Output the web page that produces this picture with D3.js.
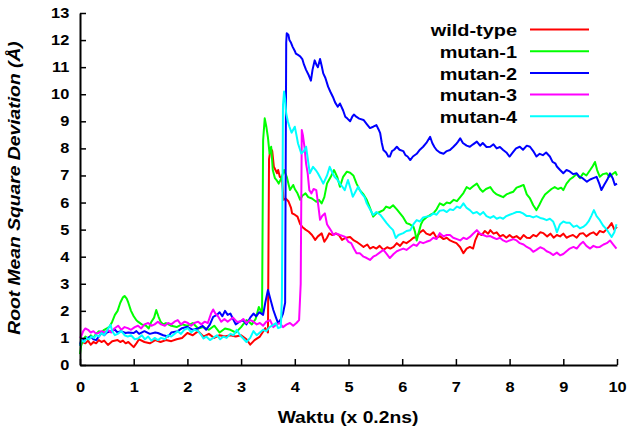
<!DOCTYPE html>
<html lang="en">
<head>
<meta charset="UTF-8">
<title>RMSD</title>
<style>
    body { margin: 0; background: #fff; }
    svg { display: block; font-family: "Liberation Sans", Arial, sans-serif; font-weight: bold; }
</style>
</head>
<body>
<div id="chart"></div>
<script src="https://d3js.org/d3.v7.min.js"></script>
<script>
// values: [time, rmsd]
const wildType = [[0,0.7],[0.05,0.85],[0.1,0.8],[0.15,0.9],[0.2,0.75],[0.25,0.85],[0.3,0.8],[0.35,0.92],[0.4,0.85],[0.45,0.9],[0.52,0.74],[0.6,0.88],[0.7,0.92],[0.75,0.85],[0.8,0.9],[0.85,0.8],[0.9,0.85],[1.0,0.66],[1.05,0.8],[1.1,0.95],[1.2,0.85],[1.3,0.8],[1.4,0.92],[1.5,0.85],[1.6,0.92],[1.7,0.88],[1.8,0.95],[1.9,1.0],[2.0,1.18],[2.1,1.1],[2.2,1.25],[2.3,1.05],[2.4,1.15],[2.5,1.0],[2.6,1.1],[2.7,1.05],[2.8,1.1],[2.9,1.05],[3.0,1.1],[3.1,0.95],[3.17,0.75],[3.25,0.92],[3.35,1.05],[3.45,1.36],[3.5,1.2],[3.52,7.6],[3.55,8.0],[3.58,7.9],[3.61,7.32],[3.64,7.2],[3.67,7.08],[3.69,7.2],[3.72,6.95],[3.76,6.9],[3.79,6.1],[3.83,6.15],[3.88,6.05],[3.93,5.8],[3.95,5.6],[4.0,5.55],[4.05,5.48],[4.1,5.2],[4.14,5.1],[4.2,5.0],[4.26,4.92],[4.32,4.8],[4.38,4.62],[4.43,4.75],[4.5,4.86],[4.55,4.55],[4.6,4.7],[4.64,4.86],[4.7,4.8],[4.76,4.86],[4.82,4.8],[4.88,4.62],[4.95,4.7],[5.03,4.73],[5.1,4.6],[5.15,4.55],[5.22,4.45],[5.28,4.36],[5.35,4.45],[5.4,4.3],[5.46,4.36],[5.52,4.3],[5.58,4.4],[5.65,4.25],[5.72,4.35],[5.78,4.3],[5.84,4.36],[5.9,4.5],[5.96,4.4],[6.02,4.55],[6.08,4.5],[6.15,4.6],[6.21,4.7],[6.27,4.73],[6.33,4.9],[6.39,4.98],[6.45,4.85],[6.52,4.8],[6.58,4.9],[6.64,4.7],[6.7,4.76],[6.77,4.65],[6.83,4.7],[6.89,4.6],[6.95,4.55],[7.01,4.5],[7.08,4.35],[7.14,4.13],[7.2,4.3],[7.26,4.36],[7.32,4.3],[7.36,4.6],[7.42,4.87],[7.48,4.8],[7.54,4.95],[7.6,4.85],[7.64,4.98],[7.7,4.85],[7.76,4.9],[7.82,4.75],[7.88,4.8],[7.94,4.7],[8.0,4.8],[8.06,4.7],[8.13,4.76],[8.2,4.65],[8.26,4.8],[8.32,4.7],[8.38,4.69],[8.44,4.8],[8.5,4.75],[8.57,4.9],[8.63,4.87],[8.7,4.75],[8.76,4.85],[8.82,4.7],[8.88,4.8],[8.94,4.75],[9.0,4.85],[9.06,4.7],[9.12,4.76],[9.18,4.8],[9.25,4.7],[9.31,4.85],[9.37,4.87],[9.43,4.75],[9.5,4.85],[9.56,4.9],[9.62,4.8],[9.68,4.95],[9.75,4.9],[9.8,5.0],[9.85,5.1],[9.9,5.24],[9.95,5.0],[10.0,5.1]];

const mutan1 = [[0,0.4],[0.02,0.7],[0.05,0.9],[0.1,1.05],[0.15,0.95],[0.2,1.1],[0.25,1.0],[0.3,1.15],[0.35,1.25],[0.4,1.2],[0.45,1.3],[0.5,1.35],[0.55,1.41],[0.6,1.6],[0.65,1.85],[0.7,2.0],[0.75,2.3],[0.8,2.5],[0.83,2.55],[0.87,2.45],[0.9,2.3],[0.95,2.0],[1.0,1.8],[1.05,1.65],[1.08,1.6],[1.15,1.5],[1.23,1.45],[1.28,1.35],[1.33,1.6],[1.38,1.75],[1.42,2.03],[1.46,1.8],[1.5,1.6],[1.55,1.5],[1.6,1.55],[1.7,1.45],[1.8,1.4],[1.9,1.5],[2.0,1.45],[2.1,1.55],[2.2,1.35],[2.3,1.4],[2.4,1.3],[2.5,1.45],[2.6,1.2],[2.7,1.35],[2.8,1.3],[2.9,1.2],[3.0,1.4],[3.1,1.66],[3.2,1.5],[3.27,1.7],[3.33,2.14],[3.39,1.9],[3.41,8.3],[3.44,9.11],[3.47,8.8],[3.5,8.4],[3.53,7.81],[3.56,8.06],[3.59,7.2],[3.63,6.9],[3.66,6.83],[3.7,6.7],[3.75,6.9],[3.8,7.2],[3.85,6.95],[3.91,6.46],[3.97,6.65],[4.0,6.5],[4.05,6.34],[4.1,6.1],[4.14,6.25],[4.2,6.34],[4.25,6.2],[4.32,6.15],[4.4,6.03],[4.45,6.1],[4.5,5.97],[4.55,6.2],[4.6,6.7],[4.67,6.95],[4.73,7.2],[4.79,6.95],[4.84,6.58],[4.9,6.95],[4.97,7.14],[5.03,7.1],[5.09,7.0],[5.15,6.7],[5.21,6.46],[5.28,6.3],[5.34,6.1],[5.4,5.8],[5.46,5.48],[5.52,5.6],[5.58,5.65],[5.65,5.72],[5.7,5.85],[5.77,5.8],[5.83,5.9],[5.9,5.75],[5.96,5.6],[6.02,5.45],[6.08,5.24],[6.14,5.2],[6.21,5.1],[6.24,4.9],[6.27,4.6],[6.31,4.9],[6.35,5.2],[6.39,5.35],[6.45,5.45],[6.52,5.54],[6.58,5.6],[6.64,5.75],[6.7,5.97],[6.77,5.9],[6.83,6.0],[6.89,5.97],[6.96,6.1],[7.02,6.05],[7.08,6.2],[7.14,6.35],[7.2,6.57],[7.26,6.5],[7.32,6.6],[7.39,6.7],[7.45,6.5],[7.5,6.4],[7.56,6.5],[7.64,6.57],[7.7,6.4],[7.76,6.3],[7.82,6.25],[7.88,6.2],[7.94,6.3],[8.0,6.35],[8.07,6.4],[8.13,6.55],[8.2,6.6],[8.26,6.65],[8.32,6.3],[8.38,6.15],[8.44,5.9],[8.5,5.72],[8.55,5.9],[8.6,6.1],[8.66,6.3],[8.72,6.4],[8.78,6.5],[8.84,6.57],[8.9,6.5],[8.96,6.55],[9.0,6.46],[9.06,6.7],[9.12,6.85],[9.19,6.95],[9.25,7.05],[9.31,6.9],[9.37,7.08],[9.43,7.0],[9.5,7.2],[9.55,7.35],[9.59,7.5],[9.63,7.2],[9.68,6.95],[9.74,7.05],[9.81,7.08],[9.86,6.95],[9.92,7.05],[9.97,7.13],[10.0,7.0]];

const mutan2 = [[0,0.75],[0.03,0.98],[0.08,0.9],[0.13,1.0],[0.2,1.05],[0.25,0.95],[0.3,0.92],[0.35,1.05],[0.4,1.18],[0.45,1.1],[0.5,1.2],[0.58,1.25],[0.65,1.3],[0.7,1.2],[0.76,1.25],[0.85,1.18],[0.9,1.2],[1.0,1.18],[1.05,1.25],[1.1,1.15],[1.2,1.25],[1.3,1.15],[1.4,1.2],[1.45,1.18],[1.55,1.1],[1.64,1.05],[1.7,1.2],[1.82,1.25],[1.9,1.36],[2.0,1.41],[2.1,1.3],[2.2,1.35],[2.28,1.45],[2.35,1.3],[2.42,1.5],[2.48,1.78],[2.55,1.85],[2.6,1.95],[2.65,1.8],[2.7,2.0],[2.75,1.85],[2.8,1.9],[2.85,1.7],[2.9,1.5],[2.97,1.6],[3.04,1.66],[3.1,1.5],[3.17,1.75],[3.23,1.9],[3.28,1.8],[3.34,1.95],[3.41,1.85],[3.45,2.3],[3.5,2.77],[3.55,2.4],[3.6,2.03],[3.65,1.75],[3.69,1.54],[3.74,1.7],[3.78,1.9],[3.82,2.3],[3.84,11.9],[3.85,12.25],[3.88,12.2],[3.9,12.0],[3.93,11.9],[3.96,11.75],[4.0,11.6],[4.02,11.5],[4.06,11.45],[4.1,11.4],[4.14,11.3],[4.17,11.1],[4.21,10.9],[4.26,10.7],[4.3,10.5],[4.33,10.9],[4.37,11.25],[4.4,11.1],[4.43,11.0],[4.47,11.3],[4.5,11.05],[4.53,10.77],[4.57,10.6],[4.62,10.28],[4.66,10.1],[4.71,9.9],[4.75,9.7],[4.8,9.54],[4.84,9.66],[4.9,9.4],[4.94,9.17],[4.98,9.1],[5.03,9.0],[5.07,9.17],[5.1,9.25],[5.15,9.16],[5.2,9.1],[5.28,9.05],[5.34,8.9],[5.4,8.75],[5.46,8.8],[5.52,8.86],[5.56,8.7],[5.59,8.56],[5.62,8.2],[5.65,7.94],[5.7,7.85],[5.74,7.7],[5.77,7.7],[5.81,7.9],[5.85,7.95],[5.9,8.06],[5.95,7.95],[6.02,7.9],[6.06,7.75],[6.1,7.7],[6.15,7.57],[6.2,7.7],[6.27,7.8],[6.33,7.95],[6.39,8.06],[6.45,8.2],[6.52,8.43],[6.56,8.2],[6.6,8.05],[6.64,7.94],[6.7,7.85],[6.77,7.8],[6.83,7.9],[6.89,7.94],[6.95,8.05],[7.0,8.15],[7.04,8.25],[7.08,8.37],[7.13,8.2],[7.2,8.1],[7.26,8.06],[7.32,8.15],[7.39,8.25],[7.45,8.1],[7.5,8.2],[7.57,8.05],[7.64,8.06],[7.7,8.15],[7.76,8.0],[7.82,8.05],[7.88,7.94],[7.94,7.85],[8.0,7.7],[8.06,7.85],[8.12,8.0],[8.19,8.06],[8.25,7.95],[8.32,8.1],[8.38,8.06],[8.44,7.9],[8.5,7.7],[8.56,7.8],[8.62,7.75],[8.68,7.85],[8.75,7.7],[8.8,7.5],[8.85,7.45],[8.88,7.33],[8.94,7.2],[9.0,7.08],[9.06,7.2],[9.12,7.15],[9.18,7.05],[9.25,7.08],[9.3,6.95],[9.36,6.9],[9.44,6.77],[9.5,6.85],[9.56,6.9],[9.62,6.95],[9.67,6.7],[9.71,6.46],[9.76,6.65],[9.82,6.85],[9.87,7.08],[9.92,6.9],[9.96,6.65],[10.0,6.7]];

const mutan3 = [[0,1.0],[0.02,1.05],[0.06,1.25],[0.1,1.35],[0.15,1.3],[0.2,1.2],[0.25,1.25],[0.3,1.15],[0.34,1.18],[0.4,1.25],[0.46,1.2],[0.52,1.3],[0.58,1.2],[0.64,1.35],[0.71,1.45],[0.77,1.3],[0.83,1.4],[0.89,1.36],[0.95,1.3],[1.02,1.4],[1.08,1.45],[1.14,1.35],[1.2,1.5],[1.27,1.55],[1.33,1.45],[1.39,1.5],[1.45,1.6],[1.51,1.5],[1.58,1.45],[1.64,1.55],[1.7,1.5],[1.76,1.6],[1.82,1.66],[1.88,1.5],[1.95,1.6],[2.01,1.55],[2.07,1.45],[2.13,1.55],[2.2,1.6],[2.26,1.5],[2.32,1.6],[2.38,1.55],[2.44,1.9],[2.48,2.05],[2.52,1.9],[2.57,1.8],[2.63,1.6],[2.69,1.7],[2.75,1.6],[2.79,1.66],[2.85,1.75],[2.92,1.6],[2.98,1.6],[3.04,1.7],[3.1,1.55],[3.17,1.66],[3.23,1.6],[3.29,1.5],[3.35,1.55],[3.41,1.45],[3.47,1.6],[3.54,1.66],[3.6,1.4],[3.66,1.5],[3.72,1.55],[3.78,1.4],[3.85,1.5],[3.91,1.55],[3.97,1.45],[4.03,1.55],[4.08,1.66],[4.11,3.0],[4.13,8.68],[4.15,8.5],[4.18,8.06],[4.21,7.44],[4.24,7.08],[4.27,6.46],[4.31,6.34],[4.35,6.5],[4.4,6.46],[4.44,5.85],[4.47,5.36],[4.51,5.5],[4.56,5.6],[4.6,5.2],[4.63,5.1],[4.68,4.95],[4.72,4.8],[4.77,4.86],[4.84,4.8],[4.93,4.74],[5.0,4.55],[5.05,4.5],[5.1,4.3],[5.15,4.13],[5.21,4.13],[5.28,4.0],[5.34,3.95],[5.4,3.88],[5.46,4.0],[5.52,4.06],[5.58,4.15],[5.65,4.25],[5.71,4.1],[5.77,3.95],[5.84,4.1],[5.9,4.2],[5.96,4.25],[6.02,4.3],[6.08,4.25],[6.15,4.36],[6.21,4.45],[6.27,4.4],[6.33,4.55],[6.39,4.5],[6.45,4.55],[6.52,4.6],[6.58,4.7],[6.64,4.65],[6.7,4.87],[6.77,4.75],[6.83,4.8],[6.89,4.8],[6.95,4.7],[7.02,4.65],[7.08,4.6],[7.14,4.7],[7.2,4.65],[7.26,4.73],[7.32,4.85],[7.39,4.98],[7.45,4.85],[7.51,4.8],[7.57,4.75],[7.64,4.76],[7.7,4.7],[7.76,4.65],[7.82,4.7],[7.88,4.6],[7.94,4.55],[8.0,4.6],[8.07,4.65],[8.13,4.6],[8.19,4.5],[8.26,4.45],[8.32,4.36],[8.38,4.3],[8.44,4.18],[8.5,4.25],[8.57,4.35],[8.63,4.3],[8.69,4.2],[8.75,4.15],[8.81,4.06],[8.88,4.15],[8.94,4.05],[9.0,4.1],[9.06,4.2],[9.12,4.3],[9.19,4.36],[9.25,4.3],[9.31,4.45],[9.37,4.55],[9.43,4.4],[9.5,4.3],[9.56,4.4],[9.62,4.35],[9.68,4.36],[9.75,4.45],[9.81,4.5],[9.87,4.6],[9.93,4.45],[9.99,4.3]];

const mutan4 = [[0,0.7],[0.03,0.92],[0.08,0.85],[0.12,1.0],[0.17,0.95],[0.21,1.05],[0.26,1.0],[0.3,1.1],[0.35,1.05],[0.4,1.18],[0.45,1.1],[0.5,1.25],[0.54,1.4],[0.57,1.48],[0.6,1.25],[0.65,1.1],[0.7,1.15],[0.77,1.25],[0.83,1.1],[0.89,1.05],[0.95,1.1],[1.02,0.95],[1.08,0.98],[1.15,1.1],[1.21,0.95],[1.27,1.05],[1.33,0.9],[1.39,1.0],[1.45,0.92],[1.51,1.0],[1.58,0.95],[1.64,1.1],[1.7,1.05],[1.76,1.15],[1.82,1.25],[1.88,1.15],[1.94,1.3],[2.01,1.36],[2.07,1.2],[2.13,1.3],[2.2,1.25],[2.26,1.1],[2.3,0.98],[2.35,1.05],[2.42,0.92],[2.48,1.0],[2.55,1.1],[2.61,0.95],[2.67,1.05],[2.73,1.0],[2.8,1.15],[2.86,1.1],[2.92,1.3],[2.98,1.1],[3.04,0.98],[3.1,0.85],[3.17,1.0],[3.23,1.25],[3.29,1.1],[3.35,1.2],[3.41,1.3],[3.47,1.25],[3.53,1.4],[3.6,1.48],[3.65,1.55],[3.69,1.36],[3.74,1.4],[3.76,2.5],[3.78,9.6],[3.8,10.1],[3.82,9.8],[3.84,9.29],[3.87,9.0],[3.9,8.8],[3.94,8.58],[4.0,8.8],[4.03,8.5],[4.06,8.18],[4.12,7.81],[4.17,7.9],[4.21,8.06],[4.25,7.5],[4.28,7.08],[4.34,7.32],[4.39,7.2],[4.43,7.08],[4.48,6.9],[4.53,6.7],[4.6,7.0],[4.65,7.32],[4.7,7.1],[4.74,6.95],[4.79,6.85],[4.84,6.7],[4.88,6.6],[4.93,6.46],[4.99,6.83],[5.04,6.5],[5.08,6.21],[5.13,6.4],[5.18,6.58],[5.24,6.35],[5.3,6.2],[5.34,5.97],[5.4,5.75],[5.46,5.54],[5.52,5.65],[5.59,5.55],[5.65,5.4],[5.71,5.24],[5.77,5.1],[5.83,4.98],[5.88,4.69],[5.93,4.8],[6.02,4.87],[6.08,4.95],[6.15,4.98],[6.21,5.2],[6.27,5.35],[6.33,5.3],[6.39,5.45],[6.45,5.48],[6.52,5.5],[6.58,5.6],[6.64,5.55],[6.7,5.7],[6.77,5.72],[6.83,5.65],[6.89,5.75],[6.95,5.72],[7.02,5.85],[7.08,5.8],[7.14,5.97],[7.2,5.8],[7.26,5.72],[7.32,5.6],[7.39,5.65],[7.45,5.55],[7.51,5.65],[7.57,5.5],[7.64,5.43],[7.7,5.5],[7.76,5.4],[7.82,5.45],[7.88,5.4],[7.94,5.5],[8.0,5.55],[8.07,5.6],[8.13,5.65],[8.19,5.65],[8.25,5.6],[8.32,5.5],[8.38,5.5],[8.44,5.45],[8.5,5.5],[8.57,5.43],[8.63,5.4],[8.69,5.35],[8.75,5.4],[8.81,5.3],[8.85,5.1],[8.88,4.9],[8.94,5.2],[9.0,5.3],[9.06,5.25],[9.12,5.25],[9.19,5.1],[9.25,5.15],[9.31,5.05],[9.37,5.1],[9.43,5.2],[9.47,5.3],[9.52,5.5],[9.57,5.72],[9.62,5.5],[9.68,5.35],[9.74,5.15],[9.81,5.0],[9.86,4.85],[9.9,4.73],[9.95,4.9],[9.99,5.2]];

const seriesNames = ["wild-type", "mutan-1", "mutan-2", "mutan-3", "mutan-4"];
const seriesColors = ["#ff0000", "#00ff00", "#0000ff", "#ff00ff", "#00ffff"];
const seriesData = [wildType, mutan1, mutan2, mutan3, mutan4];
const xTicks = [0, 1, 2, 3, 4, 5, 6, 7, 8, 9, 10];
const yTicks = [0, 1, 2, 3, 4, 5, 6, 7, 8, 9, 10, 11, 12, 13];

const width = 630, height = 433;
const stretch = 1.17; // the original lettering is a bit wider than Arial

const svg = d3.select("#chart").append("svg")
    .attr("width", width)
    .attr("height", height);

const x = d3.scaleLinear().domain([0, 10]).range([80, 617]);
const y = d3.scaleLinear().domain([0, 13]).range([365, 13]);

// data lines
const line = d3.line().x(d => x(d[0])).y(d => y(d[1]));
seriesData.forEach((s, i) => {
    svg.append("path")
        .datum(s)
        .attr("d", line)
        .attr("fill", "none")
        .attr("stroke", seriesColors[i])
        .attr("stroke-width", 2)
        .attr("stroke-linejoin", "round");
});

// axes, ticks pointing inwards
const xAxis = svg.append("g")
    .attr("transform", "translate(0,365)")
    .call(d3.axisBottom(x).tickValues(xTicks).tickFormat(d3.format("d"))
        .tickSizeInner(-6).tickSizeOuter(0).tickPadding(17));
const yAxis = svg.append("g")
    .attr("transform", "translate(80,0)")
    .call(d3.axisLeft(y).tickValues(yTicks).tickFormat(d3.format("d"))
        .tickSizeInner(-6).tickSizeOuter(0).tickPadding(10.7));

[xAxis, yAxis].forEach(g => {
    g.attr("font-family", null).attr("font-size", null);
    g.select(".domain").attr("stroke", "#000").attr("stroke-width", 2);
    g.selectAll(".tick line").attr("stroke", "#000").attr("stroke-width", 1.5);
    g.selectAll(".tick text")
        .attr("fill", "#000")
        .style("font-size", "14px")
        .attr("transform", `scale(${stretch},1)`);
});
yAxis.selectAll(".tick text").attr("x", -10.7 / stretch);

// axis titles
svg.append("text")
    .attr("transform", `translate(348,423) scale(${stretch},1)`)
    .attr("text-anchor", "middle")
    .style("font-size", "16.5px")
    .text("Waktu (x 0.2ns)");

svg.append("text")
    .attr("transform", `translate(20,188) rotate(-90) scale(${stretch},1)`)
    .attr("text-anchor", "middle")
    .style("font-size", "16.5px")
    .style("font-style", "italic")
    .text("Root Mean Square Deviation (Å)");

// legend
seriesNames.forEach((name, i) => {
    const ly = 29.5 + i * 21.7;
    svg.append("text")
        .attr("transform", `translate(517,${ly + 6.8}) scale(${stretch},1)`)
        .attr("text-anchor", "end")
        .style("font-size", "17px")
        .text(name);
    svg.append("line")
        .attr("x1", 530).attr("x2", 589)
        .attr("y1", ly).attr("y2", ly)
        .attr("stroke", seriesColors[i])
        .attr("stroke-width", 2);
});
</script>
</body>
</html>
